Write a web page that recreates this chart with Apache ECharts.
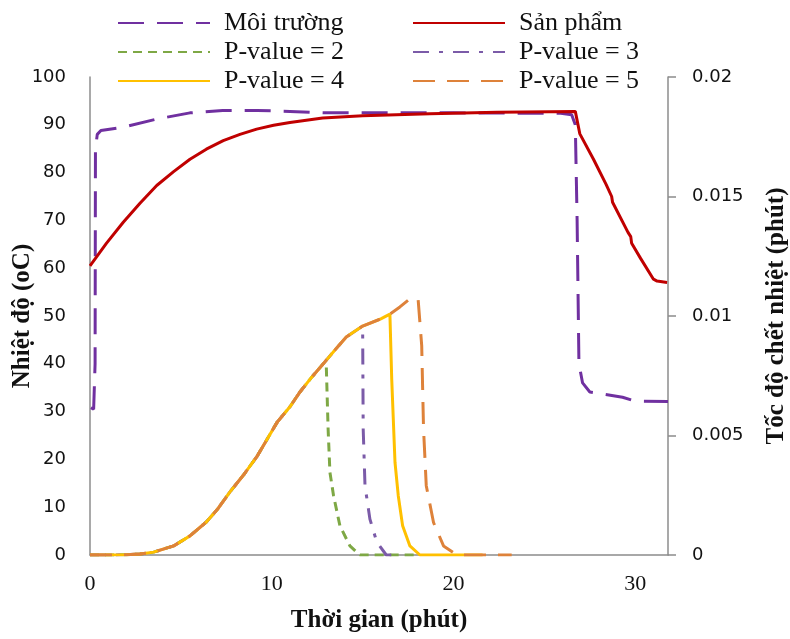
<!DOCTYPE html>
<html>
<head>
<meta charset="utf-8">
<script src="https://cdn.jsdelivr.net/npm/echarts@6/dist/echarts.min.js"></script>
<style>html,body{margin:0;padding:0;background:#fff}#c{width:790px;height:639px}</style>
</head>
<body>
<div id="c"></div>
<script>
// ---- data ----
const xTicks = [0, 10, 20, 30];
const envT = [0.05, 0.2, 0.28, 0.3, 0.4, 0.6, 1.83, 3.67, 5.5, 7.3, 9.2, 11, 12.8, 16, 20, 25.9, 26.5, 26.7, 26.8, 26.9, 27.1, 27.5, 29.3, 30, 31.8];
const envV = [30.8, 30.5, 40, 85, 88, 88.8, 89.5, 91.2, 92.5, 93.0, 93.0, 92.8, 92.5, 92.5, 92.5, 92.4, 92.1, 90, 70, 40, 36, 34.1, 33.0, 32.2, 32.1];
const prodT = [0, 0.9, 1.83, 2.75, 3.67, 4.6, 5.5, 6.4, 7.33, 8.25, 9.17, 10.1, 11, 12.8, 15, 18.7, 22.4, 26.7, 26.95, 27.7, 28.4, 28.7, 28.75, 29.6, 29.75, 29.8, 30.3, 31.0, 31.2, 31.75];
const prodV = [60.5, 65.2, 69.6, 73.6, 77.3, 80.2, 82.8, 84.9, 86.7, 88.0, 89.1, 89.9, 90.5, 91.4, 91.9, 92.3, 92.6, 92.8, 88.1, 82.8, 77.5, 75.0, 73.8, 67.5, 66.6, 65.2, 62.0, 57.7, 57.3, 57];
// shared rising part of the thermal death rate
const riseT = [0, 1, 2, 2.75, 3.5, 4.6, 5.5, 6.4, 7.0, 7.7, 8.5, 9.2, 10.3, 11.0, 11.55, 12.2, 12.9, 13.5, 14.1, 15.0, 16.0, 16.5, 17.05, 17.6, 18.05];
const riseV = [0, 0, 0.00001, 0.00004, 0.00012, 0.00038, 0.0008, 0.00138, 0.0019, 0.00264, 0.0034, 0.00414, 0.00556, 0.0062, 0.00682, 0.00744, 0.00806, 0.0086, 0.00912, 0.00958, 0.00988, 0.01008, 0.01038, 0.01072, 0.01072];
const p2T = [13.0, 13.1, 13.2, 13.4, 13.75, 14.3, 14.85, 18.1];
const p2V = [0.00792, 0.00528, 0.00346, 0.00248, 0.00122, 0.00038, 0, 0];
const p3T = [15.03, 15.13, 15.4, 15.78, 16.3, 17.1];
const p3V = [0.00528, 0.0029, 0.0015, 0.00054, 0, 0];
const p4T = [16.6, 16.78, 16.96, 17.2, 17.6, 18.15, 21.6];
const p4V = [0.00736, 0.00388, 0.00248, 0.00122, 0.00038, 0, 0];
const p5T = [18.25, 18.35, 18.5, 18.9, 19.45, 20.2, 23.2];
const p5V = [0.00876, 0.00528, 0.0029, 0.00136, 0.00038, 0, 0];

function pairs(t, v) { return t.map((x, i) => [x, v[i]]); }
function rate(dT, dV) {
  const r = [];
  for (let i = 0; i < riseT.length; i++) if (riseT[i] < dT[0]) r.push([riseT[i], riseV[i]]);
  return r.concat(pairs(dT, dV));
}

const serif = '"Liberation Serif", "Times New Roman", serif';
const sans = '"DejaVu Sans", sans-serif';
const chart = echarts.init(document.getElementById('c'), null, {renderer: 'canvas'});
const lw = 3;
const legendCommon = {
  orient: 'vertical', top: 10, padding: 0, itemWidth: 92, itemHeight: 14, itemGap: 3,
  itemStyle: {opacity: 0},
  textStyle: {fontFamily: serif, fontSize: 26, color: '#111', lineHeight: 26, padding: [0, 0, 0, 9]}
};
const nameStyle = {fontFamily: serif, fontWeight: 'bold', fontSize: 25, color: '#111'};
chart.setOption({
  animation: false,
  backgroundColor: '#fff',
  grid: {left: 90, right: 122, top: 77, bottom: 84, containLabel: false, outerBoundsMode: 'none'},
  legend: [
    Object.assign({data: ['Môi trường', 'P-value = 2', 'P-value = 4'], left: 117}, legendCommon),
    Object.assign({data: ['Sản phẩm', 'P-value = 3', 'P-value = 5'], left: 412}, legendCommon)
  ],
  xAxis: {
    type: 'value', min: 0, max: 31.8, interval: 10,
    name: 'Thời gian (phút)', nameLocation: 'middle', nameGap: 53, nameMoveOverlap: false,
    nameTextStyle: nameStyle,
    axisLine: {show: true, lineStyle: {color: '#8c8c8c', width: 1.5}},
    axisTick: {show: false},
    splitLine: {show: false},
    axisLabel: {fontFamily: serif, fontSize: 22, color: '#111', margin: 18,
      formatter: v => (xTicks.indexOf(v) >= 0 ? String(v) : '')}
  },
  yAxis: [
    {type: 'value', min: 0, max: 100, interval: 10, position: 'left',
     name: 'Nhiệt độ (oC)', nameLocation: 'middle', nameGap: 55, nameRotate: 90, nameMoveOverlap: false,
     nameTextStyle: nameStyle,
     axisLine: {show: true, lineStyle: {color: '#8c8c8c', width: 1.5}},
     axisTick: {show: false}, splitLine: {show: false},
     axisLabel: {fontFamily: sans, fontSize: 18, color: '#111', margin: 24}},
    {type: 'value', min: 0, max: 0.02, interval: 0.005, position: 'right',
     name: 'Tốc độ chết nhiệt (phút)', nameLocation: 'middle', nameGap: 96, nameRotate: 90, nameMoveOverlap: false,
     nameTextStyle: nameStyle,
     axisLine: {show: true, lineStyle: {color: '#8c8c8c', width: 1.5}},
     axisTick: {show: true, inside: false, length: 8, lineStyle: {color: '#8c8c8c', width: 1.5}},
     splitLine: {show: false},
     axisLabel: {fontFamily: sans, fontSize: 18, color: '#111', margin: 24}}
  ],
  series: [
    {name: 'Môi trường', type: 'line', yAxisIndex: 0, symbol: 'none', data: pairs(envT, envV),
     lineStyle: {color: '#7030A0', width: lw, type: [26, 13]}, itemStyle: {color: '#7030A0'}},
    {name: 'Sản phẩm', type: 'line', yAxisIndex: 0, symbol: 'none', data: pairs(prodT, prodV),
     lineStyle: {color: '#C00000', width: lw}, itemStyle: {color: '#C00000'}},
    {name: 'P-value = 2', type: 'line', yAxisIndex: 1, symbol: 'none', data: rate(p2T, p2V),
     lineStyle: {color: '#7EA845', width: lw, type: [9, 6]}, itemStyle: {color: '#7EA845'}},
    {name: 'P-value = 3', type: 'line', yAxisIndex: 1, symbol: 'none', data: rate(p3T, p3V),
     lineStyle: {color: '#7B5BA8', width: lw, type: [16, 10, 4, 10]}, itemStyle: {color: '#7B5BA8'}},
    {name: 'P-value = 4', type: 'line', yAxisIndex: 1, symbol: 'none', data: rate(p4T, p4V),
     lineStyle: {color: '#FFC000', width: lw}, itemStyle: {color: '#FFC000'}},
    {name: 'P-value = 5', type: 'line', yAxisIndex: 1, symbol: 'none', data: rate(p5T, p5V),
     lineStyle: {color: '#DE823A', width: lw, type: [22, 12]}, itemStyle: {color: '#DE823A'}}
  ]
});
</script>
</body>
</html>
